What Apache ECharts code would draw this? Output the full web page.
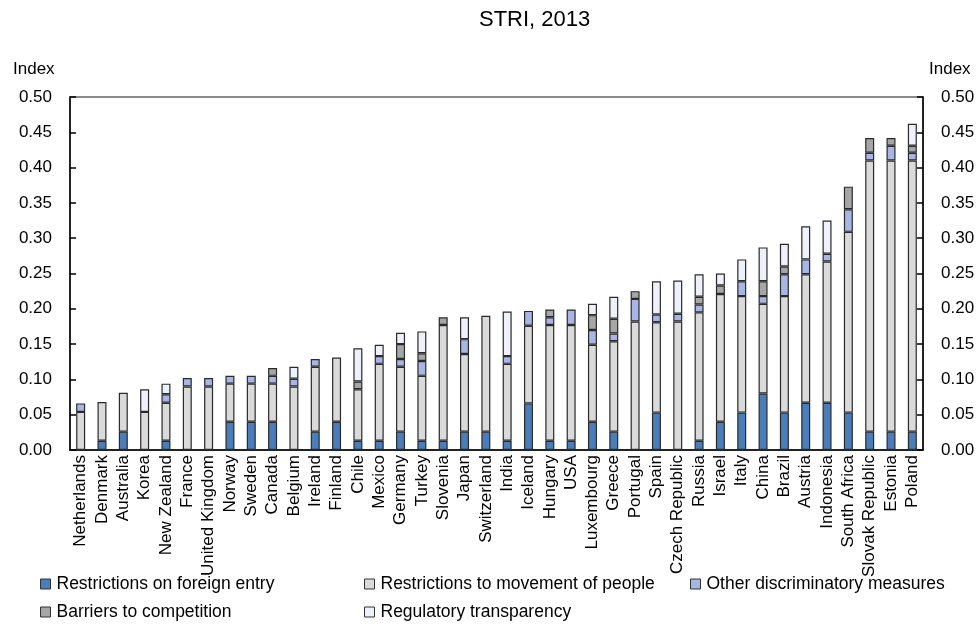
<!DOCTYPE html>
<html><head><meta charset="utf-8">
<script src="https://cdn.jsdelivr.net/npm/echarts@6/dist/echarts.min.js"></script>
<style>html,body{margin:0;padding:0;background:#fff}#c{width:978px;height:624px}</style>
</head><body><div id="c"></div>
<script>
const countries = ["Netherlands","Denmark","Australia","Korea","New Zealand","France","United Kingdom","Norway","Sweden","Canada","Belgium","Ireland","Finland","Chile","Mexico","Germany","Turkey","Slovenia","Japan","Switzerland","India","Iceland","Hungary","USA","Luxembourg","Greece","Portugal","Spain","Czech Republic","Russia","Israel","Italy","China","Brazil","Austria","Indonesia","South Africa","Slovak Republic","Estonia","Poland"];
const foreignEntry = [0,0.013,0.026,0,0.013,0,0,0.040,0.040,0.040,0,0.026,0.040,0.013,0.013,0.026,0.013,0.013,0.026,0.026,0.013,0.066,0.013,0.013,0.040,0.026,0,0.053,0,0.013,0.040,0.053,0.080,0.053,0.067,0.067,0.053,0.026,0.026,0.026];
const movementPeople = [0.054,0.055,0.055,0.054,0.054,0.090,0.090,0.054,0.054,0.054,0.090,0.092,0.091,0.073,0.109,0.092,0.092,0.164,0.110,0.164,0.109,0.110,0.164,0.164,0.109,0.128,0.182,0.128,0.182,0.182,0.181,0.165,0.127,0.165,0.182,0.200,0.256,0.384,0.384,0.384];
const otherDiscrim = [0.012,0,0,0,0.012,0.012,0.012,0.011,0.011,0.011,0.011,0.011,0,0,0.011,0.011,0.021,0,0.021,0,0.011,0.021,0.011,0.022,0.021,0.011,0.032,0.011,0.011,0.011,0,0.021,0.011,0.031,0.021,0.011,0.032,0.011,0.021,0.011];
const competition = [0,0,0,0,0,0,0,0,0,0.011,0,0,0,0.011,0,0.021,0.011,0.011,0,0,0,0,0.011,0,0.021,0.021,0.011,0,0,0.011,0.012,0,0.021,0.011,0,0,0.032,0.021,0.011,0.010];
const transparency = [0,0,0,0.032,0.015,0,0,0,0,0,0.017,0,0,0.047,0.016,0.016,0.031,0,0.031,0,0.063,0,0,0,0.016,0.031,0,0.047,0.047,0.032,0.017,0.031,0.048,0.032,0.047,0.047,0,0,0,0.031];
const yTicks = ["0.00","0.05","0.10","0.15","0.20","0.25","0.30","0.35","0.40","0.45","0.50"];
const seriesNames = ["Restrictions on foreign entry","Restrictions to movement of people","Other discriminatory measures","Barriers to competition","Regulatory transparency"];
const seriesColors = ["#4a7ebb","#dadada","#a7b6e4","#a6a6a6","#eef1f9"];
const seriesData = [foreignEntry, movementPeople, otherDiscrim, competition, transparency];

const FONT = "'Liberation Sans', Arial, sans-serif";

const yAxisBase = (pos) => ({
  type: 'value', position: pos, min: 0, max: 0.5, interval: 0.05,
  axisLine: {show: true, lineStyle: {color: '#000', width: 1.5}},
  axisTick: {show: true, inside: true, length: 6, lineStyle: {color: '#000', width: 1.5}},
  splitLine: {show: false},
  axisLabel: {fontFamily: FONT, fontSize: 17, color: '#000', margin: 18,
    formatter: v => yTicks[Math.round(v / 0.05)] || v.toFixed(2)}
});

// legend slot placement: [left, top] per series
const legendSlots = [[40, 575], [364, 575], [690, 575], [40, 603], [364, 603]];
const legends = seriesNames.map((n, i) => ({
  left: legendSlots[i][0], top: legendSlots[i][1], padding: 0,
  itemWidth: 10, itemHeight: 10, icon: 'rect', selectedMode: false,
  data: [n],
  itemStyle: {borderColor: '#333', borderWidth: 1},
  textStyle: {fontFamily: FONT, fontSize: 17.5, color: '#000', padding: [0, 0, 0, 1]}
}));

const chart = echarts.init(document.getElementById('c'), null, {renderer: 'canvas'});
chart.setOption({
  animation: false,
  backgroundColor: '#fff',
  title: {text: 'STRI, 2013', left: 479, top: 9, padding: 0,
    textStyle: {fontFamily: FONT, fontSize: 22, fontWeight: 'normal', color: '#000'}},
  grid: {left: 70, right: 55, top: 97, bottom: 174, show: true, borderColor: '#666', borderWidth: 1.5, containLabel: false},
  xAxis: {type: 'category', data: countries,
    axisLine: {lineStyle: {color: '#000', width: 1.5}}, axisTick: {show: false},
    axisLabel: {interval: 0, rotate: 90, fontFamily: FONT, fontSize: 17, color: '#000', margin: 5}},
  yAxis: [yAxisBase('left'), yAxisBase('right')],
  legend: legends,
  graphic: [
    {type: 'text', left: 13, top: 61, style: {text: 'Index', font: "17px " + FONT, fill: '#000'}},
    {type: 'text', left: 929, top: 61, style: {text: 'Index', font: "17px " + FONT, fill: '#000'}}
  ],
  series: seriesNames.map((n, i) => ({
    name: n, type: 'bar', stack: 'stri', barWidth: 9,
    itemStyle: {color: seriesColors[i], borderColor: '#2a2a2a', borderWidth: 1.2},
    data: seriesData[i].map(v => v === 0 ? null : v)
  }))
});
</script></body></html>
